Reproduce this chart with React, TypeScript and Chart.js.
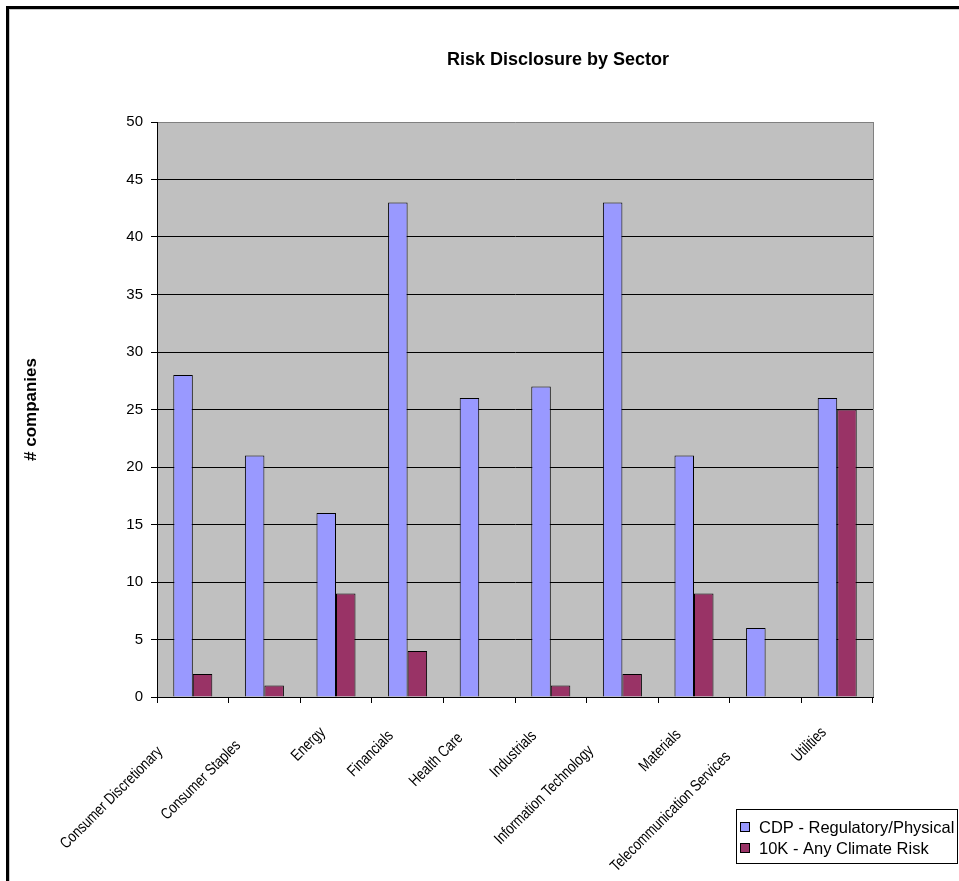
import React, { useEffect, useRef } from "react";
import { Chart, registerables } from "chart.js";

Chart.register(...registerables);

const chartTitle = "Risk Disclosure by Sector";
const yAxisTitle = "# companies";
const categories = [
  "Consumer Discretionary",
  "Consumer Staples",
  "Energy",
  "Financials",
  "Health Care",
  "Industrials",
  "Information Technology",
  "Materials",
  "Telecommunication Services",
  "Utilities",
];
const seriesLabels = ["CDP - Regulatory/Physical", "10K - Any Climate Risk"];
const cdpValues = [28, 21, 16, 43, 26, 27, 43, 21, 6, 26];
const tenKValues = [2, 1, 9, 4, 0, 1, 2, 9, 0, 25];
const yMin = 0;
const yMax = 50;
const yStep = 5;

const FONT = '"Liberation Sans", Arial, sans-serif';

const plotBgPlugin = {
  id: "plotBg",
  beforeDraw(chart: any) {
    const { ctx, chartArea } = chart;
    ctx.save();
    ctx.fillStyle = "#C0C0C0";
    ctx.fillRect(chartArea.left, chartArea.top, chartArea.right - chartArea.left, chartArea.bottom - chartArea.top);
    ctx.restore();
  },
  afterDatasetsDraw(chart: any) {
    const { ctx, chartArea } = chart;
    ctx.save();
    ctx.strokeStyle = "#808080";
    ctx.lineWidth = 1;
    ctx.beginPath();
    ctx.moveTo(Math.round(chartArea.right) + 0.5, chartArea.top);
    ctx.lineTo(Math.round(chartArea.right) + 0.5, chartArea.bottom);
    ctx.stroke();
    ctx.restore();
  },
};

// Excel-style rotated category labels (condensed glyphs, right end set back in proportion to length)
const xLabelPlugin = {
  id: "xLabels",
  afterDraw(chart: any) {
    const { ctx } = chart;
    const xs = chart.scales.x;
    const labels: string[] = chart.data.labels;
    const sx = 0.8;
    ctx.save();
    ctx.font = `16px ${FONT}`;
    ctx.fillStyle = "#000";
    ctx.textAlign = "right";
    ctx.textBaseline = "middle";
    const baseY = xs.top + 6 + 13;
    labels.forEach((lab, i) => {
      const px = xs.getPixelForTick(i) - 11;
      const rw = ctx.measureText(lab).width * sx;
      const back = 0.283 * rw;
      ctx.save();
      ctx.translate(px, baseY);
      ctx.rotate(-Math.PI / 4);
      ctx.scale(sx, 1);
      ctx.fillText(lab, -back / sx, 8.4);
      ctx.restore();
    });
    ctx.restore();
  },
};

const titlePlugin = {
  id: "customTitle",
  afterDraw(chart: any) {
    const { ctx } = chart;
    ctx.save();
    ctx.font = `bold 18px ${FONT}`;
    ctx.fillStyle = "#000";
    ctx.textAlign = "center";
    ctx.textBaseline = "middle";
    ctx.fillText(chartTitle, 558, 60);
    ctx.restore();
  },
};

const legendPlugin = {
  id: "customLegend",
  afterDraw(chart: any) {
    const { ctx } = chart;
    const bx = 736.5, by = 809.5, bw = 221, bh = 54;
    ctx.save();
    ctx.fillStyle = "#fff";
    ctx.fillRect(bx, by, bw, bh);
    ctx.strokeStyle = "#000";
    ctx.lineWidth = 1;
    ctx.strokeRect(bx, by, bw, bh);
    ctx.font = `16.5px ${FONT}`;
    ctx.textAlign = "left";
    ctx.textBaseline = "middle";
    chart.data.datasets.forEach((ds: any, i: number) => {
      const cy = 827 + i * 21;
      ctx.fillStyle = ds.backgroundColor;
      ctx.fillRect(740.5, cy - 4.5, 9, 9);
      ctx.strokeStyle = "#000";
      ctx.strokeRect(740.5, cy - 4.5, 9, 9);
      ctx.fillStyle = "#000";
      ctx.fillText(ds.label, 759, cy + 1);
    });
    ctx.restore();
  },
};

export default function App() {
  const canvasRef = useRef<HTMLCanvasElement | null>(null);

  useEffect(() => {
    if (!canvasRef.current) return;
    const chart = new Chart(canvasRef.current, {
      type: "bar",
      data: {
        labels: categories,
        datasets: [
          {
            label: seriesLabels[0],
            data: cdpValues,
            backgroundColor: "#9999FF",
            borderColor: "#000",
            borderWidth: 1,
            categoryPercentage: 0.545,
            barPercentage: 1,
          },
          {
            label: seriesLabels[1],
            data: tenKValues,
            backgroundColor: "#993366",
            borderColor: "#000",
            borderWidth: 1,
            categoryPercentage: 0.545,
            barPercentage: 1,
          },
        ],
      },
      plugins: [plotBgPlugin, xLabelPlugin, titlePlugin, legendPlugin],
      options: {
        responsive: false,
        animation: false,
        devicePixelRatio: 1,
        layout: { padding: { left: 21, top: 122, right: 86, bottom: 0 } },
        plugins: {
          legend: { display: false },
          title: { display: false },
          tooltip: { enabled: false },
        },
        scales: {
          x: {
            offset: true,
            grid: {
              offset: true,
              drawOnChartArea: false,
              drawTicks: true,
              tickLength: 6,
              color: "#000",
              tickColor: "#000",
            },
            border: { display: true, color: "#000", width: 1 },
            ticks: {
              display: false,
              autoSkip: false,
            },
            afterFit(scale: any) {
              scale.height = 184;
            },
          },
          y: {
            min: yMin,
            max: yMax,
            ticks: {
              stepSize: yStep,
              color: "#000",
              padding: 8,
              font: { family: FONT, size: 15 },
            },
            grid: {
              color: (c: any) => (c.tick && c.tick.value === yMax ? "#808080" : "#000"),
              tickColor: "#000",
              tickLength: 6,
              lineWidth: 1,
            },
            border: { display: true, color: "#000", width: 1 },
            title: {
              display: true,
              text: yAxisTitle,
              color: "#000",
              padding: 0,
              font: { family: FONT, size: 17, weight: "bold" },
            },
            afterFit(scale: any) {
              scale.width = 136;
            },
          },
        },
      },
    });
    return () => chart.destroy();
  }, []);

  return (
    <div
      style={{
        position: "fixed",
        left: 0,
        top: 0,
        width: 959,
        height: 881,
        overflow: "hidden",
        background: "#fff",
      }}
    >
      <div
        style={{
          position: "absolute",
          left: 6,
          top: 6,
          width: 1100,
          height: 1100,
          borderLeft: "3px solid #000",
          borderTop: "3px solid #000",
          boxShadow: "inset 1px 1px 0 #c8c8c8",
        }}
      />
      <canvas
        ref={canvasRef}
        width={959}
        height={881}
        style={{ position: "absolute", left: 0, top: 0, width: 959, height: 881 }}
      />
    </div>
  );
}
